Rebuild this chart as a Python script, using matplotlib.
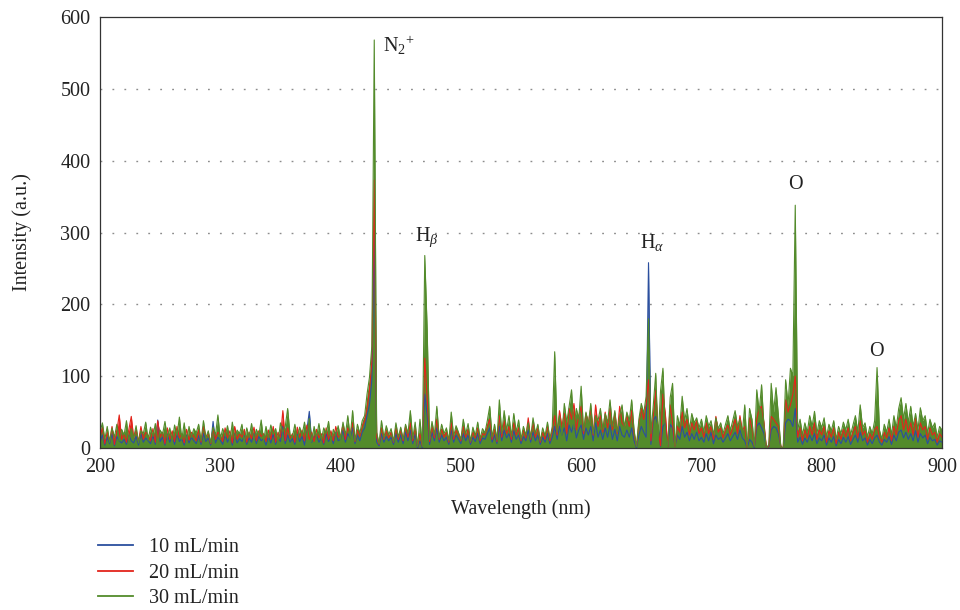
import numpy as np
import matplotlib
matplotlib.use("Agg")
import matplotlib.pyplot as plt
from matplotlib.lines import Line2D

plt.rcParams['font.family'] = ['Liberation Serif', 'DejaVu Serif']
plt.rcParams['mathtext.fontset'] = 'custom'
plt.rcParams['mathtext.rm'] = 'Liberation Serif'
plt.rcParams['mathtext.it'] = 'Liberation Serif:italic'

# wavelength grid (nm), 2 nm step
wavelength = np.arange(200, 901, 2)

green_30 = [
    22, 35, 12, 30, 8, 28, 15, 33, 10, 26,
    18, 38, 9, 27, 14, 31, 7, 24, 20, 36,
    11, 29, 16, 34, 6, 25, 19, 37, 13, 28,
    9, 32, 17, 43, 12, 35, 8, 30, 15, 27,
    21, 33, 10, 38, 14, 24, 7, 29, 18, 46,
    12, 27, 16, 31, 9, 36, 13, 25, 20, 33,
    8, 28, 15, 34, 11, 26, 17, 39, 10, 30,
    14, 32, 19, 27, 8, 35, 22, 30, 55, 18,
    16, 33, 10, 29, 18, 36, 13, 41, 9, 30,
    15, 34, 11, 28, 20, 37, 8, 26, 17, 31,
    12, 36, 18, 45, 14, 52, 10, 33, 20, 38,
    45, 75, 98, 142, 568, 22, 6, 38, 14, 31,
    18, 27, 9, 35, 15, 29, 12, 33, 20, 52,
    13, 36, 2, 40, 2, 268, 165, 12, 37, 18,
    58, 14, 33, 20, 28, 10, 50, 16, 31, 22,
    12, 40, 19, 34, 9, 29, 17, 36, 13, 27,
    21, 38, 58, 15, 33, 11, 67, 20, 52, 24,
    45, 16, 48, 22, 39, 12, 30, 18, 35, 14,
    42, 20, 33, 10, 28, 17, 36, 13, 30, 134,
    22, 45, 18, 62, 35, 58, 81, 28, 55, 40,
    86, 24, 50, 33, 62, 20, 45, 38, 55, 26,
    48, 35, 67, 30, 52, 22, 44, 60, 28, 50,
    38, 67, 25, 2, 40, 62, 48, 72, 180, 20,
    60, 104, 10, 80, 111, 20, 2, 70, 90, 2,
    45, 30, 72, 38, 55, 25, 48, 35, 42, 28,
    40, 22, 45, 30, 38, 18, 42, 27, 35, 20,
    33, 45, 24, 38, 52, 30, 40, 20, 60, 0,
    55, 40, 2, 81, 50, 88, 30, 0, 5, 90,
    50, 84, 45, 2, 0, 95, 60, 111, 100, 338,
    25, 40, 18, 35, 22, 45, 30, 51, 20, 38,
    28, 42, 15, 33, 24, 38, 12, 30, 20, 36,
    25, 40, 18, 32, 45, 22, 60, 28, 35, 15,
    30, 20, 38, 112, 25, 12, 33, 22, 40, 18,
    45, 28, 55, 70, 40, 62, 35, 58, 30, 48,
    25, 56, 38, 45, 20, 40, 28, 35, 15, 30,
    25,
]

red_20 = [
    15, 28, 6, 22, 10, 30, 5, 24, 46, 12,
    20, 8, 26, 44, 14, 25, 9, 30, 12, 22,
    18, 10, 27, 8, 38, 15, 22, 6, 28, 12,
    24, 9, 30, 14, 20, 7, 26, 11, 22, 16,
    10, 25, 8, 30, 15, 20, 6, 27, 12, 22,
    18, 9, 28, 14, 24, 7, 30, 12, 20, 15,
    26, 8, 22, 13, 29, 10, 24, 16, 20, 9,
    25, 12, 30, 8, 22, 15, 52, 10, 28, 14,
    20, 8, 29, 15, 25, 10, 32, 12, 22, 9,
    26, 14, 20, 7, 28, 12, 24, 10, 30, 15,
    18, 32, 12, 28, 20, 35, 9, 25, 16, 30,
    38, 55, 80, 120, 373, 15, 5, 28, 12, 24,
    14, 22, 8, 28, 12, 25, 10, 30, 15, 35,
    10, 28, 2, 20, 2, 125, 70, 9, 30, 14,
    40, 12, 26, 15, 22, 8, 35, 12, 25, 18,
    10, 30, 15, 26, 8, 22, 14, 28, 10, 20,
    18, 30, 40, 12, 26, 9, 45, 15, 38, 20,
    30, 12, 35, 18, 28, 10, 25, 14, 42, 12,
    35, 15, 28, 8, 22, 12, 30, 10, 25, 45,
    18, 52, 30, 48, 20, 55, 40, 62, 25, 45,
    58, 20, 48, 35, 55, 18, 60, 30, 45, 22,
    50, 28, 55, 25, 48, 20, 58, 35, 30, 45,
    30, 52, 20, 2, 35, 55, 40, 60, 95, 10,
    45, 80, 25, 3, 75, 48, 2, 60, 35, 2,
    30, 22, 50, 28, 40, 18, 35, 25, 38, 20,
    28, 15, 35, 20, 30, 12, 44, 22, 28, 14,
    25, 32, 18, 28, 40, 20, 45, 24, 30, 0,
    42, 28, 2, 40, 55, 58, 35, 0, 3, 44,
    40, 35, 30, 2, 0, 67, 50, 60, 75, 100,
    15, 28, 10, 25, 14, 30, 18, 35, 12, 25,
    18, 30, 8, 24, 15, 28, 6, 22, 12, 26,
    15, 28, 10, 22, 30, 14, 38, 18, 24, 8,
    20, 12, 25, 30, 15, 8, 22, 14, 28, 10,
    30, 18, 38, 45, 25, 40, 22, 35, 18, 42,
    15, 35, 25, 30, 12, 28, 18, 22, 8, 20,
    15,
]

blue_10 = [
    8, 18, 4, 15, 6, 20, 3, 16, 10, 7,
    12, 5, 18, 10, 7, 16, 4, 20, 8, 14,
    10, 6, 18, 5, 39, 9, 15, 4, 19, 8,
    16, 5, 20, 9, 13, 4, 18, 7, 15, 10,
    6, 17, 5, 20, 9, 14, 4, 37, 7, 15,
    11, 5, 19, 8, 16, 4, 20, 7, 13, 9,
    17, 5, 14, 8, 20, 6, 16, 10, 13, 4,
    16, 7, 20, 5, 14, 9, 30, 6, 18, 8,
    13, 5, 19, 9, 16, 4, 25, 51, 8, 15,
    18, 8, 14, 5, 20, 9, 16, 6, 22, 10,
    12, 25, 8, 20, 14, 28, 6, 18, 10, 22,
    28, 45, 60, 95, 300, 8, 3, 20, 8, 16,
    10, 15, 5, 20, 8, 18, 6, 22, 10, 25,
    6, 20, 0, 10, 0, 75, 45, 5, 22, 10,
    28, 8, 18, 10, 15, 5, 25, 8, 18, 12,
    6, 20, 10, 18, 5, 15, 9, 20, 6, 14,
    12, 20, 28, 8, 18, 6, 30, 10, 25, 14,
    20, 8, 24, 12, 18, 6, 16, 10, 25, 8,
    22, 10, 18, 5, 15, 8, 20, 6, 15, 30,
    12, 30, 18, 28, 10, 32, 22, 35, 14, 25,
    32, 12, 28, 18, 30, 10, 35, 15, 25, 12,
    28, 15, 32, 12, 26, 10, 30, 18, 15, 25,
    15, 28, 10, 0, 18, 30, 22, 15, 258, 5,
    38, 44, 30, 2, 30, 35, 2, 33, 28, 2,
    18, 12, 30, 15, 22, 10, 20, 12, 22, 10,
    15, 8, 20, 10, 22, 6, 18, 12, 15, 8,
    14, 20, 10, 16, 22, 12, 25, 14, 10, 0,
    12, 8, 0, 30, 35, 28, 20, 0, 2, 25,
    30, 28, 20, 2, 0, 35, 40, 38, 30, 55,
    8, 15, 5, 14, 8, 18, 10, 20, 6, 14,
    10, 18, 4, 14, 8, 16, 3, 12, 6, 15,
    8, 16, 5, 12, 18, 8, 22, 10, 14, 4,
    12, 6, 14, 18, 8, 4, 12, 8, 16, 5,
    18, 10, 22, 25, 14, 22, 12, 20, 10, 24,
    8, 20, 14, 18, 6, 15, 10, 12, 4, 10,
    8,
]

series_labels = ['10 mL/min', '20 mL/min', '30 mL/min']
colors = ['#2b4f9e', '#e3241b', '#538b2b']

x_ticks = [200, 300, 400, 500, 600, 700, 800, 900]
y_ticks = [0, 100, 200, 300, 400, 500, 600]

FS = 14.5
fig = plt.figure(figsize=(9.6, 6.1), dpi=100)
ax = fig.add_axes([100/960, 1 - 448/610, 842/960, 431/610])

for ys, c in zip([blue_10, red_20, green_30], colors):
    ax.fill_between(wavelength, 0, ys, color=c, lw=0)
    ax.plot(wavelength, ys, color=c, lw=0.8)

ax.set_xlim(200, 900)
ax.set_ylim(0, 600)
ax.set_xticks(x_ticks)
ax.set_yticks(y_ticks)
ax.tick_params(length=0, labelsize=FS, pad=7, colors='#222222')
for y in y_ticks[1:-1]:
    ax.axhline(y, color='#8c8c8c', lw=1.0, ls=(0, (1.3, 7.3)), zorder=0)
for s in ax.spines.values():
    s.set_color('#333333')
    s.set_linewidth(0.9)

ax.set_xlabel('Wavelength (nm)', fontsize=FS, labelpad=16, color='#222222')
ax.set_ylabel('Intensity (a.u.)', fontsize=FS, labelpad=20, color='#222222')

tc = '#222222'
ax.text(435, 560, r'N$_{2}{}^{+}$', fontsize=FS, va='center', ha='left', color=tc)
ax.text(461.5, 294, r'H$_{\mathit{\beta}}$', fontsize=FS, va='center', ha='left', color=tc)
ax.text(649, 286, r'H$_{\mathit{\alpha}}$', fontsize=FS, va='center', ha='left', color=tc)
ax.text(778.2, 367, 'O', fontsize=FS, va='center', ha='center', color=tc)
ax.text(845.5, 134, 'O', fontsize=FS, va='center', ha='center', color=tc)

handles = [Line2D([], [], color=c, lw=1.3) for c in colors]
leg = fig.legend(handles=handles, labels=series_labels, loc='upper left',
                 bbox_to_anchor=(98/960, 1 - 538/610), frameon=False,
                 fontsize=FS, handlelength=1.75, handletextpad=0.8,
                 labelspacing=0.32, borderpad=0, borderaxespad=0)
for t in leg.get_texts():
    t.set_color('#222222')

fig.savefig('out.png', dpi=100)
